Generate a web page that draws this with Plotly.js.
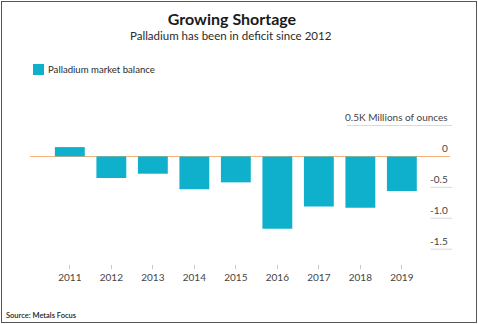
<!DOCTYPE html>
<html>
<head>
<meta charset="utf-8">
<script src="https://cdn.plot.ly/plotly-3.0.1.min.js"></script>
<style>
html,body{margin:0;padding:0;background:#fff;}
#frame{position:absolute;left:1px;top:1px;width:474px;height:320px;border:1.5px solid #555;box-sizing:content-box;}
#chart{position:absolute;left:0;top:0;width:478px;height:324px;}
</style>
</head>
<body>
<div id="chart"></div>
<div id="frame"></div>
<script>
// ---- data ----
var years = ["2011","2012","2013","2014","2015","2016","2017","2018","2019"];
var balance = [0.15, -0.35, -0.28, -0.53, -0.42, -1.17, -0.81, -0.83, -0.56];
var seriesName = "Palladium market balance";
var yTickVals = [0.5, 0, -0.5, -1.0, -1.5];
var yTickText = ["0.5K Millions of ounces", "0", "-0.5", "-1.0", "-1.5"];
var titleText = "Growing Shortage";
var subtitleText = "Palladium has been in deficit since 2012";
var sourceText = "Source: Metals Focus";

var barColor = "#0fb0cc";
var font = "Lato, 'Source Sans Pro', 'Open Sans', sans-serif";

var W = 478, H = 324;
var mL = 30, mR = 28, mT = 110, mB = 60;
var plotW = W - mL - mR, plotH = H - mT - mB;

var shapes = [];
var annotations = [];
// y tick labels (drawn above their gridline) + short underline
yTickVals.forEach(function(v, i){
  annotations.push({text: yTickText[i], xref:'paper', yref:'y', x:1, xanchor:'right',
    y: v, yanchor:'bottom', yshift: 0, showarrow:false,
    font:{family:font, size:10, color:'#444'}});
  if (v === 0) return;
  var txtW = yTickText[i].length * 4.4 + 4;
  shapes.push({type:'line', xref:'paper', yref:'y',
    x0: 1.005 - txtW/plotW, x1: 1.005, y0: v, y1: v,
    line:{color:'#d9d9d9', width:1}});
});
// legend swatch
shapes.push({type:'rect', xref:'paper', yref:'paper',
  x0: (33-mL)/plotW, x1: (44-mL)/plotW,
  y0: 1 + (mT-75)/plotH, y1: 1 + (mT-64)/plotH,
  fillcolor: barColor, line:{width:0}});

annotations.push(
  {text: subtitleText, xref:'paper', yref:'paper', x:(231-mL)/plotW, xanchor:'center',
   y: 1 + (mT-36)/plotH, yanchor:'middle', showarrow:false,
   font:{family:font, size:11.5, color:'#2a2a2a'}},
  {text: seriesName, xref:'paper', yref:'paper', x:(46-mL)/plotW, xanchor:'left',
   y: 1 + (mT-70)/plotH, yanchor:'middle', showarrow:false,
   font:{family:font, size:9.6, color:'#2a2a2a'}},
  {text: sourceText, xref:'paper', yref:'paper', x:(4-mL)/plotW, xanchor:'left',
   y: -(315-(H-mB))/plotH, yanchor:'middle', showarrow:false,
   font:{family:font, size:7.5, color:'#222', weight:600}}
);

var trace = {
  type:'bar', x: years, y: balance, name: seriesName,
  marker:{color: barColor}, showlegend:false, hoverinfo:'x+y'
};

var layout = {
  width: W, height: H,
  margin:{l:mL, r:mR, t:mT, b:mB, pad:0},
  paper_bgcolor:'#fff', plot_bgcolor:'#fff',
  font:{family:font, color:'#333', size:10},
  bargap: 0.28,
  title:{text: titleText, x: 232/W, xref:'container', xanchor:'center',
         y: 1 - 19/H, yref:'container', yanchor:'middle',
         font:{family:font, size:16, color:'#1a1a1a', weight:'bold'}},
  xaxis:{type:'category', range:[-0.96, 9.16], showgrid:false, zeroline:false,
         showline:false, ticks:'outside', ticklen:4, tickwidth:1, tickcolor:'#c8c8c8',
         tickfont:{family:font, size:10, color:'#444'}, fixedrange:true},
  yaxis:{range:[-1.74, 0.75], showticklabels:false, ticks:'', showgrid:false,
         zeroline:true, zerolinecolor:'#f7b27a', zerolinewidth:1.5, fixedrange:true},
  shapes: shapes,
  annotations: annotations
};

Plotly.newPlot('chart', [trace], layout, {displayModeBar:false, staticPlot:true});
</script>
</body>
</html>
